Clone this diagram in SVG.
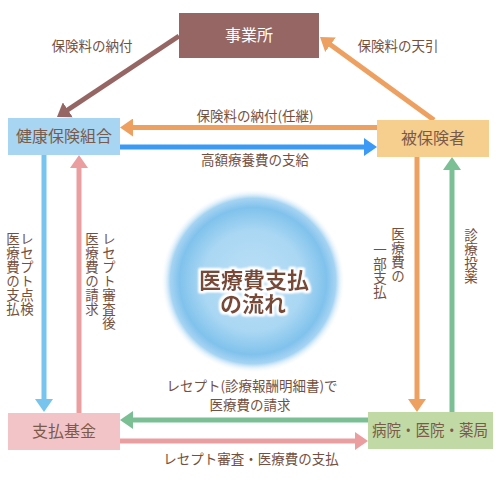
<svg xmlns="http://www.w3.org/2000/svg" width="500" height="480" viewBox="0 0 500 480">
<style>
.lbl{font-family:"Noto Sans CJK JP","Noto Sans",sans-serif;font-size:13.5px;fill:#74503f}
.box{font-family:"Noto Sans CJK JP","Noto Sans",sans-serif;font-size:16px;fill:#7a5a4a}
.vt{writing-mode:vertical-rl;font-family:"Noto Sans CJK JP","Noto Sans",sans-serif;font-size:13.5px;fill:#74503f;letter-spacing:0.5px}
.ln{stroke-width:5;fill:none}
</style>
<defs>
<radialGradient id="g" cx="0.5" cy="0.5" r="0.5">
<stop offset="0" stop-color="#bde0f7"/>
<stop offset="0.55" stop-color="#aad7f3"/>
<stop offset="0.8" stop-color="#80c2ec"/>
<stop offset="0.9" stop-color="#a6d4f2"/>
<stop offset="1" stop-color="#ffffff" stop-opacity="0"/>
</radialGradient>
<marker id="mBr" markerUnits="userSpaceOnUse" markerWidth="14" markerHeight="18" refX="3" refY="9" orient="auto"><path d="M0,0 L13,9 L0,18 z" fill="#956663"/></marker>
<marker id="mOr" markerUnits="userSpaceOnUse" markerWidth="14" markerHeight="18" refX="3" refY="9" orient="auto"><path d="M0,0 L13,9 L0,18 z" fill="#eda060"/></marker>
<marker id="mBl" markerUnits="userSpaceOnUse" markerWidth="14" markerHeight="18" refX="3" refY="9" orient="auto"><path d="M0,0 L13,9 L0,18 z" fill="#3a9af5"/></marker>
<marker id="mLb" markerUnits="userSpaceOnUse" markerWidth="14" markerHeight="18" refX="3" refY="9" orient="auto"><path d="M0,0 L13,9 L0,18 z" fill="#77c4ee"/></marker>
<marker id="mPk" markerUnits="userSpaceOnUse" markerWidth="14" markerHeight="18" refX="3" refY="9" orient="auto"><path d="M0,0 L13,9 L0,18 z" fill="#eb9ea0"/></marker>
<marker id="mGr" markerUnits="userSpaceOnUse" markerWidth="14" markerHeight="18" refX="3" refY="9" orient="auto"><path d="M0,0 L13,9 L0,18 z" fill="#7bbf94"/></marker>
<filter id="glow" x="-20%" y="-50%" width="140%" height="200%">
<feMorphology in="SourceAlpha" operator="dilate" radius="2" result="d"/>
<feGaussianBlur in="d" stdDeviation="1.3" result="b"/>
<feFlood flood-color="#ffffff"/>
<feComposite in2="b" operator="in" result="w"/>
<feMerge><feMergeNode in="w"/><feMergeNode in="w"/><feMergeNode in="SourceGraphic"/></feMerge>
</filter>
</defs>
<rect width="500" height="480" fill="#ffffff"/>
<circle cx="253" cy="281" r="92" fill="url(#g)"/>
<g id="connectors">
<line class="ln" x1="179" y1="36" x2="65.3" y2="111.5" stroke="#956663" marker-end="url(#mBr)"/>
<line class="ln" x1="434" y1="120" x2="328.1" y2="42.9" stroke="#eda060" marker-end="url(#mOr)"/>
<line class="ln" x1="377" y1="127.5" x2="130" y2="127.5" stroke="#eda060" marker-end="url(#mOr)"/>
<line class="ln" x1="120" y1="147" x2="367" y2="147" stroke="#3a9af5" marker-end="url(#mBl)"/>
<line class="ln" x1="44" y1="155" x2="44" y2="402" stroke="#77c4ee" marker-end="url(#mLb)"/>
<line class="ln" x1="79" y1="413" x2="79" y2="165" stroke="#eb9ea0" marker-end="url(#mPk)"/>
<line class="ln" x1="417" y1="157" x2="417" y2="402" stroke="#eda060" marker-end="url(#mOr)"/>
<line class="ln" x1="452" y1="412" x2="452" y2="167" stroke="#7bbf94" marker-end="url(#mGr)"/>
<line class="ln" x1="368" y1="420" x2="130" y2="420" stroke="#7bbf94" marker-end="url(#mGr)"/>
<line class="ln" x1="120" y1="441" x2="358" y2="441" stroke="#eb9ea0" marker-end="url(#mPk)"/>
</g>
<g id="labels">
<text class="lbl" x="92" y="51" text-anchor="middle">保険料の納付</text>
<text class="lbl" x="398" y="51" text-anchor="middle">保険料の天引</text>
<text class="lbl" x="255" y="121" text-anchor="middle">保険料の納付(任継)</text>
<text class="lbl" x="255" y="165" text-anchor="middle">高額療養費の支給</text>
<text class="vt" x="27" y="232">レセプト点検</text>
<text class="vt" x="13" y="232">医療費の支払</text>
<text class="vt" x="109" y="232">レセプト審査後</text>
<text class="vt" x="92" y="232">医療費の請求</text>
<text class="vt" x="398" y="227">医療費の</text>
<text class="vt" x="380" y="243">一部支払</text>
<text class="vt" x="471" y="228">診療投薬</text>
<text class="lbl" x="252" y="391" text-anchor="middle">レセプト(診療報酬明細書)で</text>
<text class="lbl" x="250" y="410" text-anchor="middle">医療費の請求</text>
<text class="lbl" x="251" y="464" text-anchor="middle">レセプト審査・医療費の支払</text>
</g>
<g id="title" filter="url(#glow)" font-family="'Noto Sans CJK JP','Noto Sans',sans-serif" font-size="22" font-weight="bold" text-anchor="middle" fill="#7a4a35">
<text x="254" y="288">医療費支払<tspan x="253" y="312">の流れ</tspan></text>
</g>
<g id="node-jigyosho"><rect x="179" y="13" width="140" height="45" fill="#956663"/><text class="box" x="249" y="41" text-anchor="middle" style="fill:#ffffff">事業所</text></g>
<g id="node-kenpo"><rect x="8" y="118" width="112" height="37" fill="#a8d5f2"/><text class="box" x="64" y="142" text-anchor="middle">健康保険組合</text></g>
<g id="node-hihokensha"><rect x="377" y="120" width="112" height="37" fill="#f6ce8e"/><text class="box" x="433" y="144" text-anchor="middle">被保険者</text></g>
<g id="node-shiharai"><rect x="8" y="413" width="112" height="37" fill="#f2c4c8"/><text class="box" x="64" y="437" text-anchor="middle">支払基金</text></g>
<g id="node-byoin"><rect x="368" y="412" width="125" height="37" fill="#c1d9a4"/><text class="box" x="430" y="436" text-anchor="middle" textLength="116" lengthAdjust="spacingAndGlyphs">病院・医院・薬局</text></g>
</svg>
